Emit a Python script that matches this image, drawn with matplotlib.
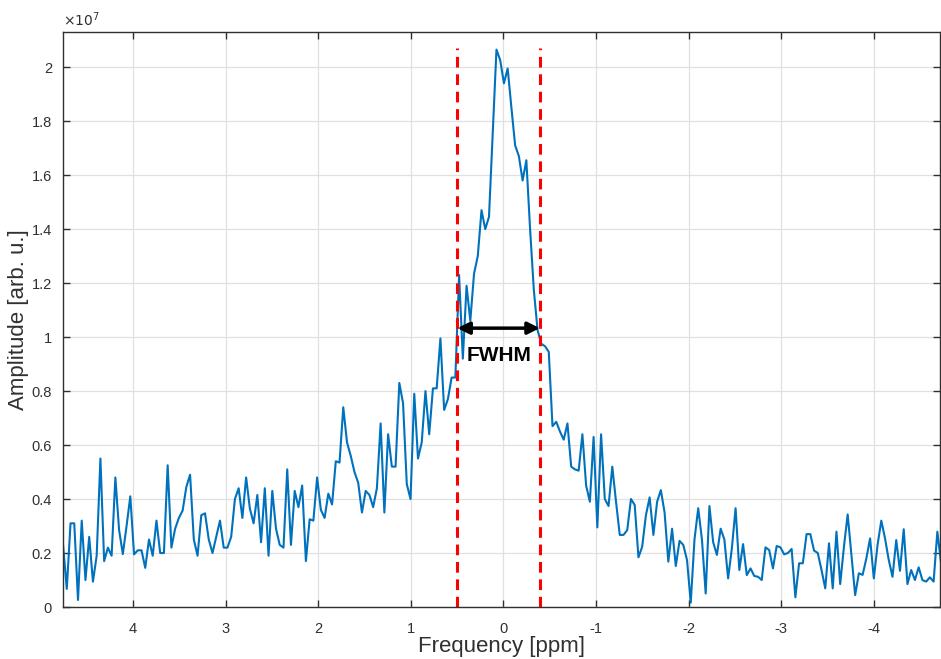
import numpy as np
import matplotlib
matplotlib.use("Agg")
import matplotlib.pyplot as plt
from matplotlib.ticker import FuncFormatter

# spectrum amplitude, units of 1e7, read left (high ppm) to right (low ppm)
amp = [
    0.23, 0.067, 0.31, 0.31, 0.026, 0.32, 0.10, 0.26, 0.094, 0.19,
    0.55, 0.17, 0.22, 0.19, 0.48, 0.285, 0.196, 0.30, 0.41, 0.195,
    0.21, 0.21, 0.145, 0.25, 0.19, 0.32, 0.20, 0.20, 0.525, 0.22,
    0.29, 0.33, 0.357, 0.445, 0.49, 0.25, 0.19, 0.34, 0.347, 0.25,
    0.20, 0.26, 0.32,
    0.22, 0.22, 0.26, 0.40, 0.44, 0.33, 0.48, 0.365, 0.31, 0.415,
    0.24, 0.44, 0.19, 0.43, 0.29, 0.23, 0.22, 0.51, 0.23, 0.43,
    0.37, 0.45, 0.17, 0.325, 0.32, 0.48, 0.36, 0.33, 0.42, 0.38,
    0.54, 0.535, 0.74, 0.61, 0.56, 0.50, 0.46, 0.35, 0.43, 0.415,
    0.37, 0.44, 0.68, 0.35, 0.64, 0.52, 0.52, 0.83, 0.755, 0.455,
    0.40, 0.79, 0.55, 0.61, 0.80, 0.64, 0.81, 0.81, 0.995, 0.73,
    0.77, 0.85, 0.85,
    1.23, 0.92, 1.19, 1.06, 1.235, 1.30, 1.47, 1.40, 1.445, 1.755,
    2.065, 2.026, 1.94, 1.995, 1.85, 1.71, 1.67, 1.58, 1.655, 1.40,
    1.175, 1.026, 0.975, 0.966, 0.945,
    0.67, 0.686, 0.65, 0.62, 0.68, 0.52, 0.51, 0.505, 0.64, 0.45,
    0.39, 0.63, 0.295, 0.64, 0.40, 0.374, 0.52, 0.39, 0.267, 0.267,
    0.285, 0.40, 0.378, 0.184, 0.223, 0.34, 0.406, 0.267, 0.39, 0.433,
    0.35, 0.168, 0.29, 0.152, 0.245,
    0.23, 0.174, 0.016, 0.25, 0.366, 0.25, 0.05, 0.374, 0.24, 0.193,
    0.29, 0.25, 0.106, 0.217, 0.366, 0.137, 0.233, 0.118, 0.143, 0.115,
    0.112, 0.10, 0.221, 0.211, 0.143, 0.226, 0.221, 0.195, 0.20, 0.215,
    0.036, 0.162, 0.162, 0.27, 0.27,
    0.209, 0.20, 0.137, 0.069, 0.236, 0.069, 0.279, 0.085, 0.223, 0.343,
    0.193, 0.044, 0.125, 0.119, 0.18, 0.254, 0.106, 0.23, 0.32, 0.254,
    0.174, 0.112, 0.248, 0.134, 0.288, 0.085, 0.137, 0.10, 0.147, 0.10,
    0.094, 0.11, 0.094, 0.279, 0.162,
]
ppm_start, ppm_end = 4.755, -4.727
fwhm_left, fwhm_right = 0.497, -0.394
half_max = 1.033
line_top = 2.07
xticks = [4, 3, 2, 1, 0, -1, -2, -3, -4]
yticks = [0, 0.2, 0.4, 0.6, 0.8, 1.0, 1.2, 1.4, 1.6, 1.8, 2.0]

ppm = np.linspace(ppm_start, ppm_end, len(amp))
scale = 1e7
y = np.array(amp) * scale

plt.rcParams['font.family'] = ['Liberation Sans', 'DejaVu Sans']
dark = '#303030'

fig = plt.figure(figsize=(9.41, 6.59), dpi=100)
ax = fig.add_axes([0.067, 0.0789, 0.932, 0.8725])

ax.plot(ppm, y, color=(0, 0.447, 0.741), lw=1.5)
for xv in (fwhm_left, fwhm_right):
    ax.plot([xv, xv], [0, line_top * scale], color='red', lw=2.2,
            ls=(0, (3.5, 2.2)))

ax.annotate('', xy=(fwhm_right, half_max * scale), xytext=(fwhm_left, half_max * scale),
            arrowprops=dict(arrowstyle='<|-|>', color='black', lw=2.5,
                            mutation_scale=18, shrinkA=0, shrinkB=0))
ax.text((fwhm_left + fwhm_right) / 2, 0.93 * scale, 'FWHM', ha='center', va='center',
        fontsize=15, fontweight='bold', color='black')

ax.set_xlim(4.755, -4.716)
ax.set_ylim(0, 2.13 * scale)
ax.set_xticks(xticks)
ax.set_xticklabels([str(v) for v in xticks])
ax.set_yticks([v * scale for v in yticks])
ax.yaxis.set_major_formatter(FuncFormatter(lambda v, p: '%g' % round(v / scale, 2)))

ax.grid(True, color='#e0e0e0', lw=0.9)
ax.set_axisbelow(True)
ax.tick_params(direction='in', top=True, right=True, length=5, width=1,
               colors=dark, labelsize=10.5)
ax.tick_params(axis='x', pad=11)
ax.tick_params(axis='y', pad=8)
for s in ax.spines.values():
    s.set_color(dark)
    s.set_linewidth(1)

ax.text(0.0, 1.006, r'$\times10^{7}$', transform=ax.transAxes, fontsize=10,
        color=dark, ha='left', va='bottom')

ax.set_xlabel('Frequency [ppm]', fontsize=16, color=dark, labelpad=0)
ax.set_ylabel('Amplitude [arb. u.]', fontsize=16, color=dark, labelpad=2)

fig.savefig('out.png', dpi=100)
